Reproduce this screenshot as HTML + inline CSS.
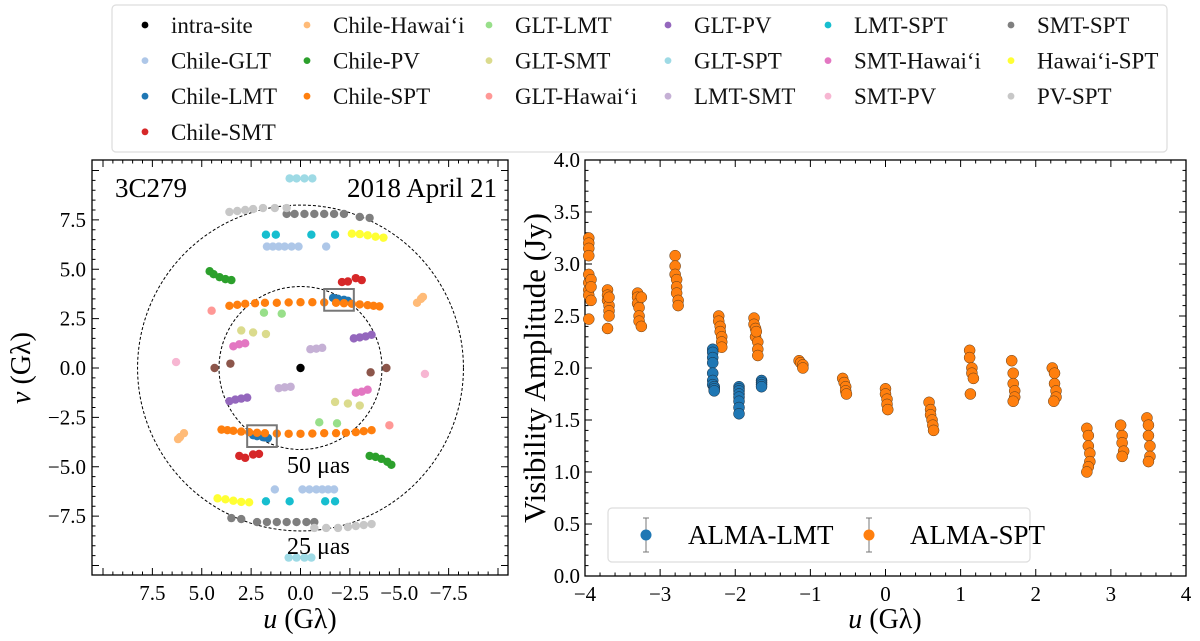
<!DOCTYPE html>
<html><head><meta charset="utf-8"><style>
html,body{margin:0;padding:0;background:#fff;}
svg{display:block;font-family:"Liberation Serif",serif;}
</style></head><body>
<svg id="fig" width="1200" height="641" viewBox="0 0 1200 641" xmlns="http://www.w3.org/2000/svg">
<g id="legend"></g>
<g id="left"></g>
<g id="right"></g>
</svg>
<script>
// ---- baseline legend
const baselineNames = ["intra-site","Chile-GLT","Chile-LMT","Chile-SMT","Chile-Hawai‘i","Chile-PV","Chile-SPT","GLT-LMT","GLT-SMT","GLT-Hawai‘i","GLT-PV","GLT-SPT","LMT-SMT","LMT-SPT","SMT-Hawai‘i","SMT-PV","SMT-SPT","Hawai‘i-SPT","PV-SPT"];
const baselineColors = ["#000000","#aec7e8","#1f77b4","#d62728","#ffbb78","#2ca02c","#ff7f0e","#98df8a","#dbdb8d","#ff9896","#9467bd","#9edae5","#c5b0d5","#17becf","#e377c2","#f7b6d2","#7f7f7f","#ffff33","#c7c7c7"];
// ---- uv coverage (one half; conjugate points mirrored)
const uvIntra = [[0,0]];
const uvChileGLT = [[1.7,6.15],[1.4,6.15],[1.1,6.15],[0.8,6.15],[0.45,6.15],[0.1,6.15],[-1.3,6.15]];
const uvChileLMT = [[-1.65,3.55],[-1.9,3.5],[-2.2,3.45],[-2.4,3.4]];
const uvChileSMT = [[-2.1,4.35],[-2.4,4.38],[-2.8,4.55],[-3.1,4.45]];
const uvChileHawaii = [[-5.9,3.3],[-6.1,3.5],[-6.2,3.6]];
const uvChilePV = [[4.6,4.9],[4.4,4.75],[4.1,4.6],[3.8,4.5],[3.5,4.45]];
const uvChileSPT = [[3.6,3.15],[3.2,3.2],[2.8,3.25],[2.3,3.28],[1.8,3.3],[1.2,3.3],[0.6,3.32],[0,3.33],[-0.6,3.33],[-1.2,3.32],[-1.8,3.3],[-2.2,3.28],[-2.6,3.25],[-3.0,3.22],[-3.4,3.18],[-3.7,3.15],[-4.0,3.12]];
const uvGLTLMT = [[1.85,2.8],[0.95,2.75]];
const uvGLTSMT = [[3.0,1.9],[2.4,1.8],[1.75,1.72]];
const uvGLTHawaii = [[4.5,2.9]];
const uvGLTPV = [[-2.7,1.5],[-3.0,1.55],[-3.3,1.6],[-3.6,1.68]];
const uvGLTSPT = [[0.55,9.6],[0.2,9.6],[-0.2,9.6],[-0.6,9.6]];
const uvLMTSMT = [[-0.5,0.95],[-0.8,0.98],[-1.1,1.02]];
const uvLMTSPT = [[1.75,6.75],[1.25,6.75],[-0.55,6.75],[-1.75,6.75]];
const uvSMTHawaii = [[3.4,1.1],[3.1,1.2],[2.8,1.25]];
const uvSMTPV = [[6.3,0.3]];
const uvSMTSPT = [[0.7,7.8],[0.3,7.8],[-0.2,7.8],[-0.7,7.8],[-1.2,7.8],[-1.7,7.8],[-2.2,7.8],[-3.0,7.65],[-3.5,7.6]];
const uvHawaiiSPT = [[-2.6,6.8],[-3.0,6.78],[-3.4,6.72],[-3.8,6.65],[-4.2,6.6]];
const uvPVSPT = [[3.6,7.9],[3.2,7.95],[2.8,8.0],[2.4,8.05],[1.9,8.1],[1.3,8.1],[0.7,8.1]];
const uvLMTPV = [[4.35,0.0],[3.55,0.22]];
const uvSets = [uvIntra,uvChileGLT,uvChileLMT,uvChileSMT,uvChileHawaii,uvChilePV,uvChileSPT,uvGLTLMT,uvGLTSMT,uvGLTHawaii,uvGLTPV,uvGLTSPT,uvLMTSMT,uvLMTSPT,uvSMTHawaii,uvSMTPV,uvSMTSPT,uvHawaiiSPT,uvPVSPT];
const uvTicks = [7.5,5.0,2.5,0.0,-2.5,-5.0,-7.5];
const uvTickLabels = ["7.5","5.0","2.5","0.0","\u22122.5","\u22125.0","\u22127.5"];
// ---- visibility amplitudes
const lmtU = [-2.3,-2.3,-2.3,-2.3,-2.3,-2.3,-2.3,-2.28,-2.28,-2.28,-1.95,-1.95,-1.95,-1.95,-1.95,-1.95,-1.95,-1.95,-1.65,-1.65,-1.65,-1.65];
const lmtAmp = [2.18,2.15,2.1,2.05,1.95,1.88,1.84,1.82,1.8,1.78,1.82,1.8,1.78,1.75,1.72,1.68,1.62,1.56,1.88,1.86,1.84,1.82];
const sptU = [-3.95,-3.95,-3.95,-3.95,-3.95,-3.95,-3.95,-3.95,-3.95,-3.92,-3.92,-3.92,
 -3.7,-3.7,-3.7,-3.68,-3.68,-3.68,-3.7,-3.68,
 -3.3,-3.3,-3.3,-3.28,-3.28,-3.28,-3.25,-3.25,
 -2.8,-2.8,-2.8,-2.78,-2.78,-2.78,-2.76,-2.76,
 -2.22,-2.22,-2.2,-2.2,-2.18,-2.18,-2.18,
 -1.75,-1.75,-1.73,-1.73,-1.7,-1.7,-1.7,-1.72,
 -1.15,-1.13,-1.1,-1.1,
 -0.57,-0.55,-0.53,-0.53,-0.52,
 0.0,0.0,0.02,0.02,0.03,
 0.58,0.6,0.6,0.62,0.63,0.64,
 1.12,1.12,1.15,1.15,1.17,1.13,
 1.68,1.7,1.7,1.72,1.72,1.7,
 2.22,2.25,2.25,2.27,2.27,2.24,
 2.68,2.7,2.7,2.72,2.72,2.7,2.68,
 3.13,3.15,3.15,3.17,3.15,
 3.48,3.5,3.5,3.52,3.52,3.5];
const sptAmp = [3.25,3.2,3.15,3.08,2.9,2.82,2.75,2.7,2.47,2.85,2.78,2.65,
 2.75,2.7,2.65,2.6,2.55,2.5,2.38,2.68,
 2.72,2.68,2.62,2.58,2.5,2.45,2.4,2.68,
 3.08,2.98,2.9,2.85,2.78,2.72,2.65,2.6,
 2.5,2.45,2.4,2.35,2.3,2.25,2.2,
 2.48,2.42,2.38,2.3,2.25,2.18,2.12,2.35,
 2.07,2.05,2.03,2.0,
 1.9,1.86,1.82,1.78,1.75,
 1.8,1.75,1.7,1.65,1.6,
 1.67,1.6,1.55,1.5,1.45,1.4,
 2.17,2.1,2.0,1.95,1.9,1.75,
 2.07,1.95,1.85,1.78,1.72,1.68,
 2.0,1.95,1.85,1.78,1.72,1.68,
 1.42,1.35,1.25,1.18,1.1,1.05,1.0,
 1.45,1.35,1.28,1.2,1.15,
 1.52,1.45,1.35,1.25,1.15,1.1];
const ampTicks = [0,0.5,1,1.5,2,2.5,3,3.5,4];
const ampTickLabels = ["0.0","0.5","1.0","1.5","2.0","2.5","3.0","3.5","4.0"];
const uTicks = [-4,-3,-2,-1,0,1,2,3,4];
const uTickLabels = ["\u22124","\u22123","\u22122","\u22121","0","1","2","3","4"];

const NS="http://www.w3.org/2000/svg";
function mk(parent,tag,attrs,text){const e=document.createElementNS(NS,tag);for(const k in attrs)e.setAttribute(k,attrs[k]);if(text!==undefined)e.textContent=text;parent.appendChild(e);return e;}

// ===== Legend
const lg=document.getElementById('legend');
const lbox=mk(lg,'rect',{x:112,y:5,width:1055,height:147,rx:4,fill:'#fff',stroke:'#dddddd','stroke-width':1.2});

const colStart=[0,4,7,10,13,16];
const colMarker=[145,307,489,668,828,1011];
for(let i=0;i<baselineNames.length;i++){
  let c=0;for(let k=0;k<6;k++){if(i>=colStart[k])c=k;}
  const r=i-colStart[c];
  const y=25+r*35.6;
  const g=mk(lg,'g',{});
  
  
  mk(g,'circle',{cx:colMarker[c],cy:y,r:3.4,fill:baselineColors[i]});
  mk(g,'text',{x:colMarker[c]+26,y:y+8,'font-size':23,fill:'#111'},baselineNames[i]);
}

// ===== Left panel
const L={x0:92,x1:508,y0:160,y1:575,cx:300.5,cy:368,s:19.75};
const ux=u=>L.cx-u*L.s, vy=v=>L.cy-v*L.s;
const lp=document.getElementById('left');
const lframe=mk(lp,'rect',{x:L.x0,y:L.y0,width:L.x1-L.x0,height:L.y1-L.y0,fill:'none',stroke:'#000','stroke-width':1.3});

const c50=mk(lp,'circle',{cx:ux(0),cy:vy(0),r:4.125*L.s,fill:'none',stroke:'#000','stroke-width':1,'stroke-dasharray':'3,2'});

const c25=mk(lp,'circle',{cx:ux(0),cy:vy(0),r:8.25*L.s,fill:'none',stroke:'#000','stroke-width':1,'stroke-dasharray':'3,2'});

uvSets.forEach((set,i)=>{
  const g=mk(lp,'g',{});
  
  
  set.forEach(p=>{
    mk(g,'circle',{cx:ux(p[0]),cy:vy(p[1]),r:4.2,fill:baselineColors[i]});
    if(p[0]!==0||p[1]!==0) mk(g,'circle',{cx:ux(-p[0]),cy:vy(-p[1]),r:4.2,fill:baselineColors[i]});
  });
});
const gb=mk(lp,'g',{});

uvLMTPV.forEach(p=>{mk(gb,'circle',{cx:ux(p[0]),cy:vy(p[1]),r:4.2,fill:'#8c564b'});mk(gb,'circle',{cx:ux(-p[0]),cy:vy(-p[1]),r:4.2,fill:'#8c564b'});});
const hb1=mk(lp,'rect',{x:ux(-1.2),y:vy(4.0),width:1.5*L.s,height:1.1*L.s,fill:'none',stroke:'#777','stroke-width':2});

const hb2=mk(lp,'rect',{x:ux(2.7),y:vy(-2.9),width:1.5*L.s,height:1.1*L.s,fill:'none',stroke:'#777','stroke-width':2});

const lt=mk(lp,'g',{stroke:'#000','stroke-width':1});

for(let k=-20;k<=20;k++){
  const val=k*0.5, major=(k%5===0), len=major?7:3.5;
  const x=ux(val), y=vy(val);
  if(x>L.x0+0.5&&x<L.x1-0.5){mk(lt,'line',{x1:x,y1:L.y1,x2:x,y2:L.y1-len});mk(lt,'line',{x1:x,y1:L.y0,x2:x,y2:L.y0+len});}
  if(y>L.y0+0.5&&y<L.y1-0.5){mk(lt,'line',{x1:L.x0,y1:y,x2:L.x0+len,y2:y});mk(lt,'line',{x1:L.x1,y1:y,x2:L.x1-len,y2:y});}
}
uvTicks.forEach((t,i)=>{
  const a=mk(lp,'text',{x:ux(t),y:L.y1+25,'font-size':21,'text-anchor':'middle'},uvTickLabels[i]);
  
  const b=mk(lp,'text',{x:L.x0-6,y:vy(t)+7,'font-size':21,'text-anchor':'end'},uvTickLabels[i]);
  
});
const ul=mk(lp,'text',{x:300,y:628,'font-size':28,'text-anchor':'middle'});
ul.innerHTML='<tspan font-style="italic">u</tspan> (Gλ)';

const vl=mk(lp,'text',{x:0,y:0,'font-size':28,'text-anchor':'middle',transform:'translate(30,368) rotate(-90)'});
vl.innerHTML='<tspan font-style="italic">v</tspan> (Gλ)';

const t1=mk(lp,'text',{x:115,y:197,'font-size':27},'3C279');

const t2=mk(lp,'text',{x:497,y:197,'font-size':27,'text-anchor':'end'},'2018 April 21');

const t3=mk(lp,'text',{x:287,y:473,'font-size':24},'50 μas');

const t4=mk(lp,'text',{x:287,y:554,'font-size':24},'25 μas');


// ===== Right panel
const R={x0:585,x1:1186,y0:160,y1:576};
const rx=u=>R.x0+(u+4)/8*(R.x1-R.x0), ry=a=>R.y1-a/4*(R.y1-R.y0);
const rp=document.getElementById('right');
const rframe=mk(rp,'rect',{x:R.x0,y:R.y0,width:R.x1-R.x0,height:R.y1-R.y0,fill:'none',stroke:'#000','stroke-width':1.3});

const rt=mk(rp,'g',{stroke:'#000','stroke-width':1});

for(let k=-20;k<=20;k++){const x=rx(k*0.2),len=(k%5===0)?7:3.5;if(x>R.x0+0.5&&x<R.x1-0.5){mk(rt,'line',{x1:x,y1:R.y1,x2:x,y2:R.y1-len});mk(rt,'line',{x1:x,y1:R.y0,x2:x,y2:R.y0+len});}}
for(let k=0;k<=40;k++){const y=ry(k*0.1),len=(k%5===0)?7:3.5;if(y>R.y0+0.5&&y<R.y1-0.5){mk(rt,'line',{x1:R.x0,y1:y,x2:R.x0+len,y2:y});mk(rt,'line',{x1:R.x1,y1:y,x2:R.x1-len,y2:y});}}
const sg=mk(rp,'g',{});

sptU.forEach((u,i)=>mk(sg,'circle',{cx:rx(u),cy:ry(sptAmp[i]),r:5.5,fill:'#ff7f0e',stroke:'#5a3a1a','stroke-width':0.5}));
const bg=mk(rp,'g',{});

lmtU.forEach((u,i)=>mk(bg,'circle',{cx:rx(u),cy:ry(lmtAmp[i]),r:5.5,fill:'#1f77b4',stroke:'#1a2a3a','stroke-width':0.5}));
ampTicks.forEach((t,i)=>{const a=mk(rp,'text',{x:R.x0-5,y:ry(t)+7,'font-size':21,'text-anchor':'end'},ampTickLabels[i]);});
uTicks.forEach((t,i)=>{const a=mk(rp,'text',{x:rx(t),y:R.y1+25,'font-size':21,'text-anchor':'middle'},uTickLabels[i]);});
const rxl=mk(rp,'text',{x:885,y:628,'font-size':28,'text-anchor':'middle'});
rxl.innerHTML='<tspan font-style="italic">u</tspan> (Gλ)';

const ryl=mk(rp,'text',{x:0,y:0,'font-size':31,'text-anchor':'middle',transform:'translate(545,368) rotate(-90)'},'Visibility Amplitude (Jy)');

const il=mk(rp,'g',{});

mk(il,'rect',{x:608,y:508,width:422,height:54,rx:4,fill:'#fff',stroke:'#dddddd','stroke-width':1.2});
const e1=mk(il,'g',{});
mk(e1,'line',{x1:646,y1:518,x2:646,y2:552,stroke:'#777','stroke-width':1});
mk(e1,'line',{x1:643,y1:518,x2:649,y2:518,stroke:'#777','stroke-width':1});
mk(e1,'line',{x1:643,y1:552,x2:649,y2:552,stroke:'#777','stroke-width':1});
mk(e1,'circle',{cx:646,cy:535,r:5.5,fill:'#1f77b4'});
mk(e1,'text',{x:688,y:544,'font-size':27},'ALMA-LMT');
const e2=mk(il,'g',{});
mk(e2,'line',{x1:869,y1:518,x2:869,y2:552,stroke:'#777','stroke-width':1});
mk(e2,'line',{x1:866,y1:518,x2:872,y2:518,stroke:'#777','stroke-width':1});
mk(e2,'line',{x1:866,y1:552,x2:872,y2:552,stroke:'#777','stroke-width':1});
mk(e2,'circle',{cx:869,cy:535,r:5.5,fill:'#ff7f0e'});
mk(e2,'text',{x:910,y:544,'font-size':27},'ALMA-SPT');
</script>
</body></html>
